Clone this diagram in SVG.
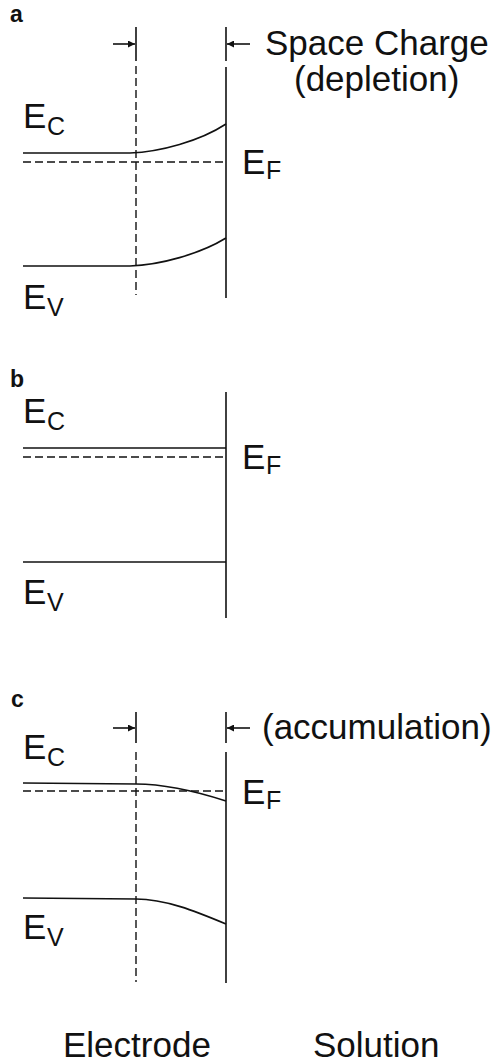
<svg xmlns="http://www.w3.org/2000/svg" width="499" height="1063" viewBox="0 0 499 1063">
<style>
.ln{stroke:#111;stroke-width:1.6;fill:none}
.ds{stroke:#111;stroke-width:1.4;fill:none;stroke-dasharray:8 4}
.t{font-family:"Liberation Sans",Arial,sans-serif;font-size:35px;fill:#111}
.s{font-family:"Liberation Sans",Arial,sans-serif;font-size:25px;fill:#111}
.p{font-family:"Liberation Sans",Arial,sans-serif;font-size:23px;font-weight:bold;fill:#111}
</style>
<defs>
<marker id="ah" viewBox="0 0 10 10" refX="10" refY="5" markerWidth="10" markerHeight="7" markerUnits="userSpaceOnUse" orient="auto">
<path d="M0,0 L10,5 L0,10 Z" fill="#111"/>
</marker>
</defs>
<rect width="499" height="1063" fill="#fff"/>

<g id="panel-a">
<text class="p" x="10" y="22">a</text>
<g id="a-bands">
<path class="ln" d="M23,153 L130,153 C160,152 200,141 226,124"/>
<line class="ds" x1="23" y1="162" x2="226" y2="162"/>
<path class="ln" d="M23,266 L130,266 C160,265 200,254 226,238"/>
<line class="ln" x1="226" y1="27" x2="226" y2="61"/>
<line class="ln" x1="226" y1="67" x2="226" y2="298"/>
<line class="ln" x1="136" y1="27" x2="136" y2="61"/>
<line class="ds" x1="136" y1="66" x2="136" y2="295"/>
</g>
<g id="a-arrows">
<line class="ln" x1="113" y1="44" x2="135" y2="44" marker-end="url(#ah)"/>
<line class="ln" x1="250" y1="44" x2="227" y2="44" marker-end="url(#ah)"/>
</g>
<text class="t" x="23" y="128">E<tspan class="s" x="47" y="135">C</tspan></text>
<text class="t" x="242" y="174">E<tspan class="s" x="266" y="179">F</tspan></text>
<text class="t" x="23" y="309">E<tspan class="s" x="47" y="316">V</tspan></text>
<text class="t" x="265" y="55">Space Charge</text>
<text class="t" x="294" y="91">(depletion)</text>
</g>

<g id="panel-b">
<text class="p" x="10" y="387">b</text>
<line class="ln" x1="23" y1="448" x2="226" y2="448"/>
<line class="ds" x1="23" y1="457" x2="226" y2="457"/>
<line class="ln" x1="23" y1="562" x2="226" y2="562"/>
<line class="ln" x1="226" y1="392" x2="226" y2="618"/>
<text class="t" x="23" y="423">E<tspan class="s" x="47" y="430">C</tspan></text>
<text class="t" x="242" y="469">E<tspan class="s" x="266" y="474">F</tspan></text>
<text class="t" x="23" y="604">E<tspan class="s" x="47" y="611">V</tspan></text>
</g>

<g id="panel-c">
<text class="p" x="11" y="707">c</text>
<g id="c-bands">
<path class="ln" d="M23,783 L136,784 C165,784 195,791 226,801"/>
<line class="ds" x1="23" y1="791" x2="226" y2="791"/>
<path class="ln" d="M23,898 L136,899 C165,899 195,911 226,924"/>
<line class="ln" x1="226" y1="712" x2="226" y2="743"/>
<line class="ln" x1="226" y1="752" x2="226" y2="983"/>
<line class="ln" x1="136" y1="712" x2="136" y2="743"/>
<line class="ds" x1="136" y1="752" x2="136" y2="982"/>
</g>
<g id="c-arrows">
<line class="ln" x1="113" y1="728" x2="135" y2="728" marker-end="url(#ah)"/>
<line class="ln" x1="250" y1="728" x2="227" y2="728" marker-end="url(#ah)"/>
</g>
<text class="t" x="23" y="759">E<tspan class="s" x="47" y="766">C</tspan></text>
<text class="t" x="242" y="804">E<tspan class="s" x="266" y="809">F</tspan></text>
<text class="t" x="23" y="939">E<tspan class="s" x="47" y="946">V</tspan></text>
<text class="t" x="262" y="739">(accumulation)</text>
</g>

<g id="footer">
<text class="t" x="63" y="1057">Electrode</text>
<text class="t" x="313" y="1057">Solution</text>
</g>
</svg>
